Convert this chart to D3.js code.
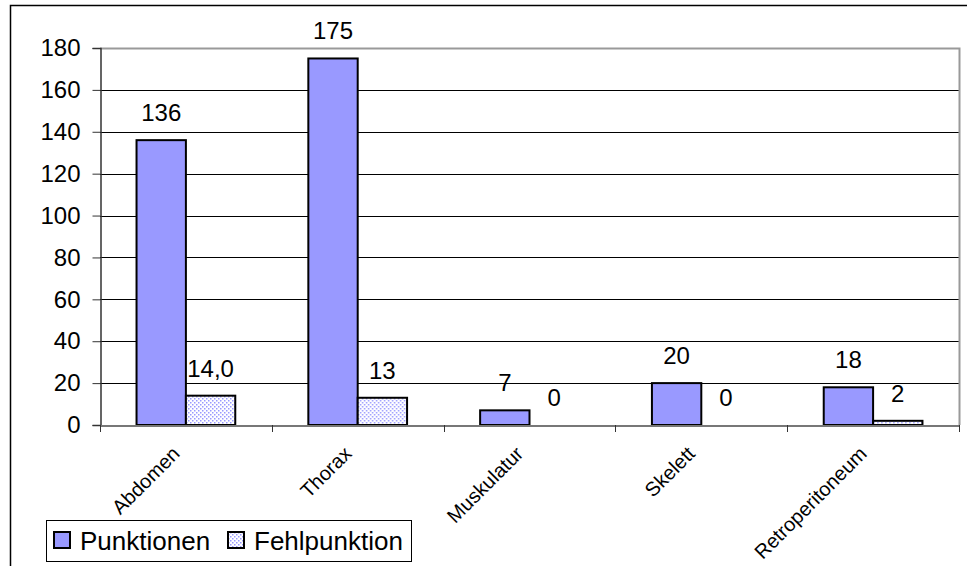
<!DOCTYPE html>
<html>
<head>
<meta charset="utf-8">
<script src="https://cdn.jsdelivr.net/npm/d3@7"></script>
<style>
  body { margin: 0; background: #fff; }
  svg { display: block; font-family: "Liberation Sans", Arial, sans-serif; }
</style>
</head>
<body>
<svg id="chart" width="967" height="566"></svg>
<script>
const categories = ["Abdomen", "Thorax", "Muskulatur", "Skelett", "Retroperitoneum"];
const seriesNames = ["Punktionen", "Fehlpunktion"];
const punktionen = [136, 175, 7, 20, 18];
const fehlpunktion = [14, 13, 0, 0, 2];
const fehlLabels = ["14,0", "13", "0", "0", "2"];
const yTicks = [0, 20, 40, 60, 80, 100, 120, 140, 160, 180];

const FONT = 24;
const svg = d3.select("#chart");
const plot = { left: 100, right: 959, top: 48, bottom: 425 };

// dotted fill for the second series
const defs = svg.append("defs");
const pat = defs.append("pattern").attr("id", "dots")
  .attr("patternUnits", "userSpaceOnUse").attr("width", 4).attr("height", 4);
pat.append("rect").attr("width", 4).attr("height", 4).attr("fill", "#fff");
pat.append("rect").attr("x", 0).attr("y", 0).attr("width", 1.5).attr("height", 1.5).attr("fill", "#9999FF");
pat.append("rect").attr("x", 2).attr("y", 2).attr("width", 1.5).attr("height", 1.5).attr("fill", "#9999FF");

// outer chart frame (top and left edges visible)
svg.append("path").attr("d", "M10.5,566 V5.5 H967")
  .attr("fill", "none").attr("stroke", "#000").attr("stroke-width", 1.5);

const x0 = d3.scaleBand().domain(categories).range([plot.left, plot.right]);
const x1 = d3.scaleBand().domain(seriesNames).range([0, x0.bandwidth()]).paddingOuter(0.74).paddingInner(0);
const y = d3.scaleLinear().domain([0, 180]).range([plot.bottom, plot.top]);

// gridlines
svg.append("g").selectAll("line").data(yTicks.filter(t => t > 0 && t < 180)).join("line")
  .attr("x1", plot.left).attr("x2", plot.right)
  .attr("y1", d => Math.round(y(d)) + 0.5).attr("y2", d => Math.round(y(d)) + 0.5)
  .attr("stroke", "#000").attr("stroke-width", 1);

// plot area border: top and right in grey
svg.append("path")
  .attr("d", `M${plot.left},${Math.round(y(180)) + 0.5} H${plot.right + 0.5} V${plot.bottom}`)
  .attr("fill", "none").attr("stroke", "#999").attr("stroke-width", 2);

// y axis
const yAxis = svg.append("g").attr("transform", `translate(${plot.left + 0.5},0)`)
  .call(d3.axisLeft(y).tickValues(yTicks).tickSize(8).tickPadding(12));
yAxis.select(".domain").attr("stroke", "#333").attr("stroke-width", 1.5);
yAxis.selectAll(".tick line").attr("stroke", "#333");
yAxis.selectAll("text").attr("font-size", FONT).attr("fill", "#000")
  .attr("font-family", "Liberation Sans, Arial, sans-serif");

// bars
const groups = svg.append("g").selectAll("g").data(categories).join("g")
  .attr("transform", d => `translate(${x0(d)},0)`);
groups.append("rect")
  .attr("x", x1("Punktionen")).attr("width", x1.bandwidth())
  .attr("y", (d, i) => y(punktionen[i])).attr("height", (d, i) => y(0) - y(punktionen[i]))
  .attr("fill", "#9999FF").attr("stroke", "#000").attr("stroke-width", 2);
groups.append("rect")
  .attr("x", x1("Fehlpunktion")).attr("width", x1.bandwidth())
  .attr("y", (d, i) => y(fehlpunktion[i])).attr("height", (d, i) => y(0) - y(fehlpunktion[i]))
  .attr("fill", "url(#dots)").attr("stroke", "#000")
  .attr("stroke-width", (d, i) => fehlpunktion[i] > 0 ? 2 : 0);

// value labels
groups.append("text")
  .attr("x", x1("Punktionen") + x1.bandwidth() / 2)
  .attr("y", (d, i) => y(punktionen[i]) - 19)
  .attr("text-anchor", "middle").attr("font-size", FONT)
  .text((d, i) => punktionen[i]);
groups.append("text")
  .attr("x", x1("Fehlpunktion") + x1.bandwidth() / 2)
  .attr("y", (d, i) => y(fehlpunktion[i]) - 19)
  .attr("text-anchor", "middle").attr("font-size", FONT)
  .text((d, i) => fehlLabels[i]);

// x axis
const xAxis = svg.append("g").attr("transform", `translate(0,${plot.bottom + 0.5})`)
  .call(d3.axisBottom(x0).tickSize(0).tickFormat(""));
xAxis.select(".domain").attr("stroke", "#777").attr("stroke-width", 2);
svg.append("g").selectAll("line").data(d3.range(categories.length + 1)).join("line")
  .attr("x1", i => Math.round(plot.left + i * x0.step()) + 0.5)
  .attr("x2", i => Math.round(plot.left + i * x0.step()) + 0.5)
  .attr("y1", plot.bottom).attr("y2", plot.bottom + 7)
  .attr("stroke", "#333").attr("stroke-width", 1);

// rotated category labels
svg.append("g").selectAll("text").data(categories).join("text")
  .attr("transform", d => `translate(${x0(d) + x0.bandwidth() / 2 - 5},${plot.bottom + 30}) rotate(-45)`)
  .attr("text-anchor", "end").attr("font-size", 20)
  .text(d => d);

// legend
const lg = svg.append("g").attr("transform", "translate(46,520)");
lg.append("rect").attr("x", 0.5).attr("y", 0.5).attr("width", 365).attr("height", 41)
  .attr("fill", "#fff").attr("stroke", "#000").attr("stroke-width", 1);
const items = [
  { name: seriesNames[0], fill: "#9999FF", x: 8 },
  { name: seriesNames[1], fill: "url(#dots)", x: 182 }
];
items.forEach(it => {
  lg.append("rect").attr("x", it.x).attr("y", 12).attr("width", 16).attr("height", 16)
    .attr("fill", it.fill).attr("stroke", "#000").attr("stroke-width", 2);
  lg.append("text").attr("x", it.x + 26).attr("y", 30).attr("font-size", 26).text(it.name);
});
</script>
</body>
</html>
